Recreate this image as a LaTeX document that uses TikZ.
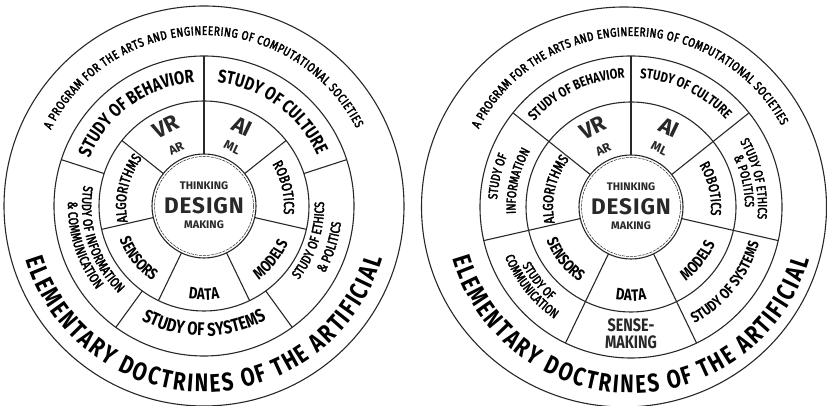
\documentclass[tikz,border=0pt]{standalone}
\usepackage{fontspec}
\setmainfont{Fira Sans}[FakeStretch=0.8]
\newfontfamily\labf{Fira Sans}[FakeStretch=0.8, FakeBold=2.6]
\newfontfamily\ctrfont{Fira Sans}
\usepackage{graphicx}
\usetikzlibrary{decorations.text}
\definecolor{ink}{RGB}{40,40,40}
% text along an arc, centred on angle #2 (tops outward / inward); #3 = font command
\newcommand\OutArc[4]{\path[decorate,decoration={text along path,text align=center,text={|#3|#4}}] (#2+90:#1) arc[start angle=#2+90,end angle=#2-90,radius=#1];}
\newcommand\InArc[4]{\path[decorate,decoration={text along path,text align=center,text={|#3|#4}}] (#2-90:#1) arc[start angle=#2-90,end angle=#2+90,radius=#1];}
% text fitted to an arc from angle #2 to angle #3
\newcommand\FitArc[5]{\path[decorate,decoration={text along path,text align=fit to path,text={|#4|#5}}] (#2:#1) arc[start angle=#2,end angle=#3,radius=#1];}
\newcommand\bfs[1]{\fontsize{#1}{#1}\selectfont\bfseries}
\newcommand\mds[1]{\labf\fontsize{#1}{#1}\selectfont}
\tikzset{
  ln/.style={line width=1.1pt, draw=ink},
  dln/.style={line width=0.5pt, draw=ink, dash pattern=on 3pt off 1pt},
  bigf/.style={font=\ctrfont\fontsize{22}{22}\selectfont\bfseries, inner sep=0pt},
  smallf/.style={font=\ctrfont\fontsize{12.5}{12.5}\selectfont\bfseries, inner sep=0pt},
  sensef/.style={font=\fontsize{18}{18}\selectfont\bfseries, inner sep=0pt},
  ctrs/.style={font=\ctrfont\fontsize{11}{11}\selectfont\bfseries, inner sep=0pt},
  ctrb/.style={font=\ctrfont\fontsize{22.5}{22.5}\selectfont\bfseries\addfontfeature{LetterSpace=4}, inner sep=0pt},
}
\newcommand\elemfont{\fontsize{25.5}{25.5}\selectfont\bfseries}
\newcommand\progfont{\labf\fontsize{12.5}{12.5}\selectfont}
\begin{document}
\begin{tikzpicture}[x=1pt,y=1pt,color=ink]
\useasboundingbox[fill=white] (0,0) rectangle (827,406);
% ---------------- left diagram ----------------
\coordinate (c1) at (204,200);
\begin{scope}[shift={(c1)}]
  \draw[ln] (0,0) circle[radius=200];
  \draw[ln] (0,0) circle[radius=150];
  \draw[ln] (0,0) circle[radius=105];
  \draw[ln] (0,0) circle[radius=52];
  \draw[dln] (0,0) circle[radius=49.5];
  \draw[ln] (90:52) -- (90:150);
  \foreach \k in {1,...,6} \draw[ln] ({90+\k*360/7}:52) -- ({90+\k*360/7}:105);
  \foreach \k in {1,...,4} \draw[ln] ({90+\k*72}:105) -- ({90+\k*72}:150);
  \node[ctrs] (th1) at (0,20) {THINKING};
  \node[ctrb] (de1) at (0,0) {DESIGN};
  \node[ctrs] (mk1) at (0,-19) {MAKING};
  \node[bigf,rotate=25.7] (vr1) at (115.7:88) {VR};
  \node[smallf,rotate=25.7] (ar1) at (115.7:64) {AR};
  \node[bigf,rotate=-25.7] (ai1) at (64.3:88) {AI};
  \node[smallf,rotate=-25.7] (ml1) at (64.3:65) {ML};
  \OutArc{78}{167.1}{\mds{14.5}}{ALGORITHMS}
  \OutArc{80}{12.9}{\mds{14.5}}{ROBOTICS}
  \InArc{91}{218.6}{\bfs{16}}{SENSORS}
  \InArc{92}{321.4}{\bfs{16}}{MODELS}
  \InArc{94}{270}{\bfs{16.5}}{DATA}
  \OutArc{124}{126}{\bfs{18.5}}{STUDY OF BEHAVIOR}
  \OutArc{124}{54}{\bfs{18.5}}{STUDY OF CULTURE}
  \InArc{130}{270}{\bfs{18.5}}{STUDY OF SYSTEMS}
  \InArc{122}{198}{\mds{13.5}}{STUDY OF INFORMATION}
  \InArc{136}{198}{\mds{13.5}}{{\&} COMMUNICATION}
  \InArc{120}{342}{\mds{13.5}}{STUDY OF ETHICS}
  \InArc{138}{342}{\mds{13.5}}{{\&} POLITICS}
  \FitArc{171}{153.6}{27}{\progfont}{A PROGRAM FOR THE ARTS AND ENGINEERING OF COMPUTATIONAL SOCIETIES}
  \FitArc{186}{196.8}{343.5}{\elemfont}{ELEMENTARY DOCTRINES OF THE ARTIFICIAL}
\end{scope}
% ---------------- right diagram ----------------
\coordinate (c2) at (631,199);
\draw[ln] (624,199) ellipse[x radius=202.5, y radius=200];
\begin{scope}[shift={(c2)}]
  \draw[ln] (0,0) circle[radius=151];
  \draw[ln] (0,0) circle[radius=105];
  \draw[ln] (0,0) circle[radius=52];
  \draw[dln] (0,0) circle[radius=49.5];
  \foreach \k in {0,...,6} \draw[ln] ({90+\k*360/7}:52) -- ({90+\k*360/7}:151);
  \node[ctrs] (th2) at (0,20) {THINKING};
  \node[ctrb] (de2) at (0,0) {DESIGN};
  \node[ctrs] (mk2) at (0,-19) {MAKING};
  \node[bigf,rotate=25.7] (vr2) at (115.7:88) {VR};
  \node[smallf,rotate=25.7] (ar2) at (115.7:64) {AR};
  \node[bigf,rotate=-25.7] (ai2) at (64.3:88) {AI};
  \node[smallf,rotate=-25.7] (ml2) at (64.3:65) {ML};
  \OutArc{78}{167.1}{\mds{14.5}}{ALGORITHMS}
  \OutArc{80}{12.9}{\mds{14.5}}{ROBOTICS}
  \InArc{91}{218.6}{\bfs{16}}{SENSORS}
  \InArc{92}{321.4}{\bfs{16}}{MODELS}
  \InArc{94}{270}{\bfs{16.5}}{DATA}
  \OutArc{129}{115.7}{\bfs{14}}{STUDY OF BEHAVIOR}
  \OutArc{129}{64.3}{\bfs{14}}{STUDY OF CULTURE}
  \OutArc{134}{167.1}{\mds{13}}{STUDY OF}
  \OutArc{115.5}{167.1}{\mds{13}}{INFORMATION}
  \OutArc{127}{12.9}{\mds{13}}{STUDY OF ETHICS}
  \OutArc{114}{12.9}{\mds{13}}{{\&} POLITICS}
  \InArc{123.5}{218.6}{\mds{13}}{STUDY OF}
  \InArc{135.5}{218.6}{\mds{13}}{COMMUNICATION}
  \node[sensef] (se2) at (270:118) {SENSE-};
  \node[sensef] (mk2b) at (270:135) {MAKING};
  \InArc{133}{321.4}{\bfs{15}}{STUDY OF SYSTEMS}
  \FitArc{171}{152.9}{28.4}{\progfont}{A PROGRAM FOR THE ARTS AND ENGINEERING OF COMPUTATIONAL SOCIETIES}
  \FitArc{186}{196}{343.5}{\elemfont}{ELEMENTARY DOCTRINES OF THE ARTIFICIAL}
\end{scope}
\end{tikzpicture}
\end{document}
